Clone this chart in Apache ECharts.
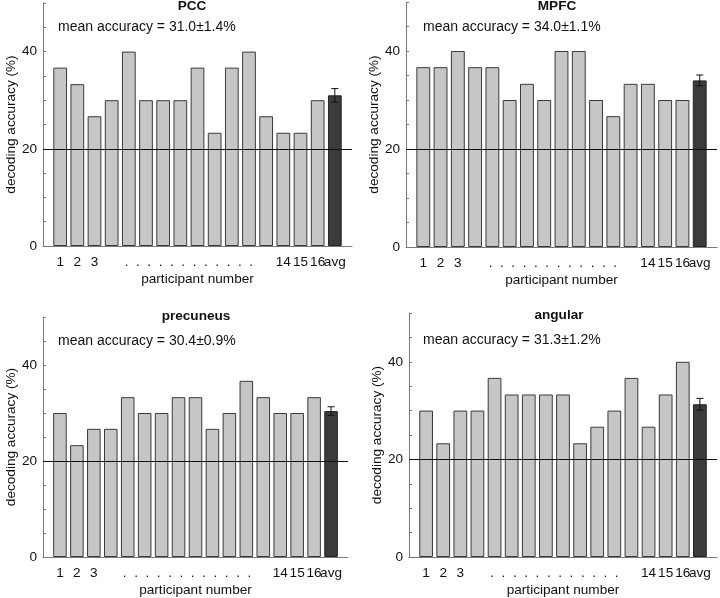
<!DOCTYPE html>
<html>
<head>
<meta charset="utf-8">
<script src="https://cdn.jsdelivr.net/npm/echarts@6/dist/echarts.min.js"></script>
<style>html,body{margin:0;padding:0;background:#fff}#c{width:720px;height:598px}</style>
</head>
<body>
<div id="c"></div>
<script>
// ---- data ----
const regions = ['PCC', 'MPFC', 'precuneus', 'angular'];
const pccValues = [36.7, 33.3, 26.7, 30, 40, 30, 30, 30, 36.7, 23.3, 36.7, 40, 26.7, 23.3, 23.3, 30];
const mpfcValues = [36.7, 36.7, 40, 36.7, 36.7, 30, 33.3, 30, 40, 40, 30, 26.7, 33.3, 33.3, 30, 30];
const precuneusValues = [30, 23.3, 26.7, 26.7, 33.3, 30, 30, 33.3, 33.3, 26.7, 30, 36.7, 33.3, 30, 30, 33.3];
const angularValues = [30, 23.3, 30, 30, 36.7, 33.3, 33.3, 33.3, 33.3, 23.3, 26.7, 30, 36.7, 26.7, 33.3, 40];
const meanAccuracy = [31.0, 34.0, 30.4, 31.3];
const semAccuracy = [1.4, 1.1, 0.9, 1.2];
const chanceLevel = 20;
const xTickPos = [1, 2, 3, 8.5, 14, 15, 16, 17];
const xTickText = ['1', '2', '3', '.  .  .  .  .  .  .  .  .  .  .  .', '14', '15', '16', 'avg'];
const yTickLabels = [0, 20, 40];
const xAxisName = 'participant number';
const yAxisName = 'decoding accuracy (%)';

const allValues = [pccValues, mpfcValues, precuneusValues, angularValues];

// ---- layout ----
const grids = [
  {left: 43, top: 3, width: 309, height: 243},
  {left: 406, top: 2, width: 312, height: 245},
  {left: 43, top: 317, width: 305, height: 240},
  {left: 409, top: 313, width: 309, height: 245}
];
const titlePos = [[192, 6], [557, 6], [196, 316], [559, 315]];
const meanPos = [[58, 27], [423, 27], [58, 341], [423, 340]];

const FONT = "'Liberation Sans', Arial, sans-serif";
const FS = 13.6;
const axisGray = '#7a7a7a';

const option = {
  animation: false,
  backgroundColor: '#fff',
  textStyle: {fontFamily: FONT},
  grid: grids.map(g => Object.assign({containLabel: false}, g)),
  xAxis: grids.map((g, i) => ({
    type: 'value', gridIndex: i, min: 0, max: 18, interval: 0.5,
    axisLine: {show: true, onZero: false, lineStyle: {color: axisGray, width: 1}},
    axisTick: {show: false},
    splitLine: {show: false},
    axisLabel: {
      show: true, margin: 9, fontSize: FS, color: '#111', fontFamily: FONT,
      showMinLabel: true, showMaxLabel: true,
      formatter: v => {
        const k = xTickPos.findIndex(p => Math.abs(p - v) < 1e-6);
        return k >= 0 ? xTickText[k] : '';
      }
    },
    name: xAxisName, nameLocation: 'middle', nameGap: 26,
    nameTextStyle: {fontSize: FS, color: '#111', fontFamily: FONT}
  })),
  yAxis: grids.map((g, i) => ({
    type: 'value', gridIndex: i, min: 0, max: 50, interval: 5,
    axisLine: {show: true, lineStyle: {color: axisGray, width: 1}},
    axisTick: {show: true, inside: true, length: 3, lineStyle: {color: axisGray}},
    splitLine: {show: false},
    axisLabel: {
      fontSize: FS, color: '#111', margin: 6, fontFamily: FONT,
      formatter: v => yTickLabels.indexOf(v) >= 0 ? String(v) : ''
    },
    name: yAxisName, nameLocation: 'middle', nameGap: 25,
    nameTextStyle: {fontSize: FS, color: '#111', fontFamily: FONT}
  })),
  series: [],
  graphic: []
};

allValues.forEach((vals, i) => {
  const barW = grids[i].width / 18 * 0.8;
  const data = vals.map((v, j) => ({value: [j + 1, v]}));
  data.push({value: [vals.length + 1, meanAccuracy[i]], itemStyle: {color: '#3b3b3b', borderColor: '#222'}});
  option.series.push({
    type: 'bar', xAxisIndex: i, yAxisIndex: i, barWidth: barW,
    data: data,
    itemStyle: {color: '#c6c6c6', borderColor: '#3a3a3a', borderWidth: 1},
    markLine: {
      silent: true, symbol: 'none', label: {show: false},
      lineStyle: {color: '#111', type: 'solid', width: 1},
      data: [{yAxis: chanceLevel}], z: 5
    }
  });
  option.series.push({
    type: 'custom', xAxisIndex: i, yAxisIndex: i, z: 10,
    data: [[vals.length + 1, meanAccuracy[i], semAccuracy[i]]],
    renderItem: (params, api) => {
      const x = api.value(0), m = api.value(1), s = api.value(2);
      const top = api.coord([x, m + s]);
      const bot = api.coord([x, m - s]);
      const cw = 3.5;
      const st = {stroke: '#111', lineWidth: 1};
      return {type: 'group', children: [
        {type: 'line', shape: {x1: top[0], y1: top[1], x2: bot[0], y2: bot[1]}, style: st},
        {type: 'line', shape: {x1: top[0] - cw, y1: top[1], x2: top[0] + cw, y2: top[1]}, style: st},
        {type: 'line', shape: {x1: bot[0] - cw, y1: bot[1], x2: bot[0] + cw, y2: bot[1]}, style: st}
      ]};
    }
  });
  option.graphic.push({
    type: 'text', x: titlePos[i][0], y: titlePos[i][1],
    style: {text: regions[i], font: 'bold ' + FS + 'px ' + FONT, fill: '#111', align: 'center', verticalAlign: 'middle'}
  });
  option.graphic.push({
    type: 'text', x: meanPos[i][0], y: meanPos[i][1],
    style: {text: 'mean accuracy = ' + meanAccuracy[i].toFixed(1) + '\u00b1' + semAccuracy[i].toFixed(1) + '%',
            font: '14px ' + FONT, fill: '#111', align: 'left', verticalAlign: 'middle'}
  });
});

const chart = echarts.init(document.getElementById('c'), null, {renderer: 'canvas'});
chart.setOption(option);
</script>
</body>
</html>
